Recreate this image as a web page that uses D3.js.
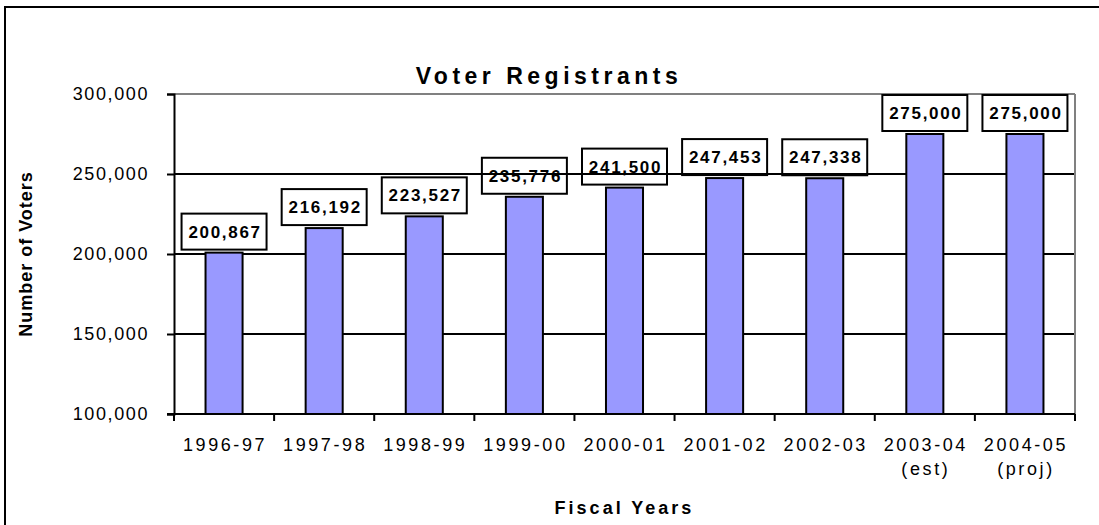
<!DOCTYPE html>
<html>
<head>
<meta charset="utf-8">
<script src="https://cdn.jsdelivr.net/npm/d3@7"></script>
<style>
  body { margin: 0; background: #fff; }
  text { font-family: "Liberation Sans", Arial, sans-serif; fill: #000; }
</style>
</head>
<body>
<script>
// chart data
var years = ["1996-97", "1997-98", "1998-99", "1999-00", "2000-01", "2001-02", "2002-03", "2003-04", "2004-05"];
var yearNotes = ["", "", "", "", "", "", "", "(est)", "(proj)"];
var voters = [200867, 216192, 223527, 235776, 241500, 247453, 247338, 275000, 275000];
var yTicks = [100000, 150000, 200000, 250000, 300000];

var width = 1099, height = 525;
var plot = { left: 174, right: 1075, top: 94, bottom: 414 };

var svg = d3.select("body").append("svg")
    .attr("width", width)
    .attr("height", height);

// outer chart border (runs off the right / bottom of the picture)
svg.append("rect")
    .attr("x", 5).attr("y", 7)
    .attr("width", 1110).attr("height", 540)
    .attr("fill", "none")
    .attr("stroke", "#000")
    .attr("stroke-width", 2);

var x = d3.scaleBand().domain(years).range([plot.left, plot.right]).padding(0);
var y = d3.scaleLinear().domain([100000, 300000]).range([plot.bottom, plot.top]);

// grid lines
svg.append("g").selectAll("line")
    .data(yTicks.slice(1))
    .enter().append("line")
    .attr("x1", plot.left).attr("x2", plot.right)
    .attr("y1", function(d) { return y(d); })
    .attr("y2", function(d) { return y(d); })
    .attr("stroke", function(d) { return d == 300000 ? "#808080" : "#000"; })
    .attr("stroke-width", 2);

// right border of plot area
svg.append("line")
    .attr("x1", plot.right).attr("x2", plot.right)
    .attr("y1", plot.top).attr("y2", plot.bottom)
    .attr("stroke", "#808080").attr("stroke-width", 2);

// bars
var barW = x.bandwidth() * 0.37;
svg.append("g").selectAll("rect")
    .data(voters)
    .enter().append("rect")
    .attr("x", function(d, i) { return x(years[i]) + (x.bandwidth() - barW) / 2; })
    .attr("y", function(d) { return y(d); })
    .attr("width", barW)
    .attr("height", function(d) { return plot.bottom - y(d); })
    .attr("fill", "#9999ff")
    .attr("stroke", "#000")
    .attr("stroke-width", 2);

// value labels in boxes
var boxW = 85, boxH = 36, gap = 3;
var lab = svg.append("g").selectAll("g")
    .data(voters)
    .enter().append("g")
    .attr("transform", function(d, i) {
        return "translate(" + (x(years[i]) + x.bandwidth() / 2) + "," + (y(d) - gap) + ")";
    });
lab.append("rect")
    .attr("x", -boxW / 2).attr("y", -boxH)
    .attr("width", boxW).attr("height", boxH)
    .attr("fill", "none")
    .attr("stroke", "#000")
    .attr("stroke-width", 2);
lab.append("text")
    .attr("x", 1)
    .attr("y", -12)
    .attr("text-anchor", "middle")
    .style("font-size", "17px")
    .style("font-weight", "bold")
    .style("letter-spacing", "1.7px")
    .text(function(d) { return d3.format(",")(d); });

// y axis
var yAxis = svg.append("g")
    .attr("transform", "translate(" + plot.left + ",0)")
    .call(d3.axisLeft(y).tickValues(yTicks).tickFormat(d3.format(",")).tickSize(7).tickPadding(18));
yAxis.select(".domain").attr("stroke", "#000").attr("stroke-width", 2);
yAxis.selectAll(".tick line").attr("stroke", "#000").attr("stroke-width", 2);
yAxis.selectAll(".tick text")
    .style("font-family", "'Liberation Sans', Arial, sans-serif")
    .style("font-size", "18px")
    .style("letter-spacing", "1.6px")
    .attr("fill", "#000");

// x axis: labels under each category, ticks on category boundaries
var xAxis = svg.append("g")
    .attr("transform", "translate(0," + plot.bottom + ")")
    .call(d3.axisBottom(x).tickSize(0).tickPadding(0).tickSizeOuter(0));
xAxis.select(".domain").remove();
xAxis.selectAll(".tick text").remove();
xAxis.append("line")
    .attr("x1", plot.left - 7).attr("x2", plot.right)
    .attr("stroke", "#000").attr("stroke-width", 2);
xAxis.selectAll(".bound")
    .data(years.concat(["end"]))
    .enter().append("line")
    .attr("class", "bound")
    .attr("x1", function(d, i) { return plot.left + i * x.step(); })
    .attr("x2", function(d, i) { return plot.left + i * x.step(); })
    .attr("y1", 0).attr("y2", 7)
    .attr("stroke", "#000").attr("stroke-width", 2);
xAxis.selectAll(".tick").each(function(d, i) {
    var t = d3.select(this).append("text")
        .attr("text-anchor", "middle")
        .attr("x", 1)
        .style("font-size", "18px")
        .style("letter-spacing", "2.6px");
    t.append("tspan").attr("x", 1).attr("y", 37).text(d);
    if (yearNotes[i]) t.append("tspan").attr("x", 1).attr("y", 61).text(yearNotes[i]);
});

// titles
svg.append("text")
    .attr("x", 549).attr("y", 84)
    .attr("text-anchor", "middle")
    .style("font-size", "23px")
    .style("font-weight", "bold")
    .style("letter-spacing", "4.5px")
    .text("Voter Registrants");

svg.append("text")
    .attr("transform", "translate(32," + ((plot.top + plot.bottom) / 2) + ") rotate(-90)")
    .attr("text-anchor", "middle")
    .style("font-size", "18px")
    .style("font-weight", "bold")
    .style("letter-spacing", "1px")
    .text("Number of Voters");

svg.append("text")
    .attr("x", (plot.left + plot.right) / 2).attr("y", 514)
    .attr("text-anchor", "middle")
    .style("font-size", "18px")
    .style("font-weight", "bold")
    .style("letter-spacing", "3px")
    .text("Fiscal Years");
</script>
</body>
</html>
